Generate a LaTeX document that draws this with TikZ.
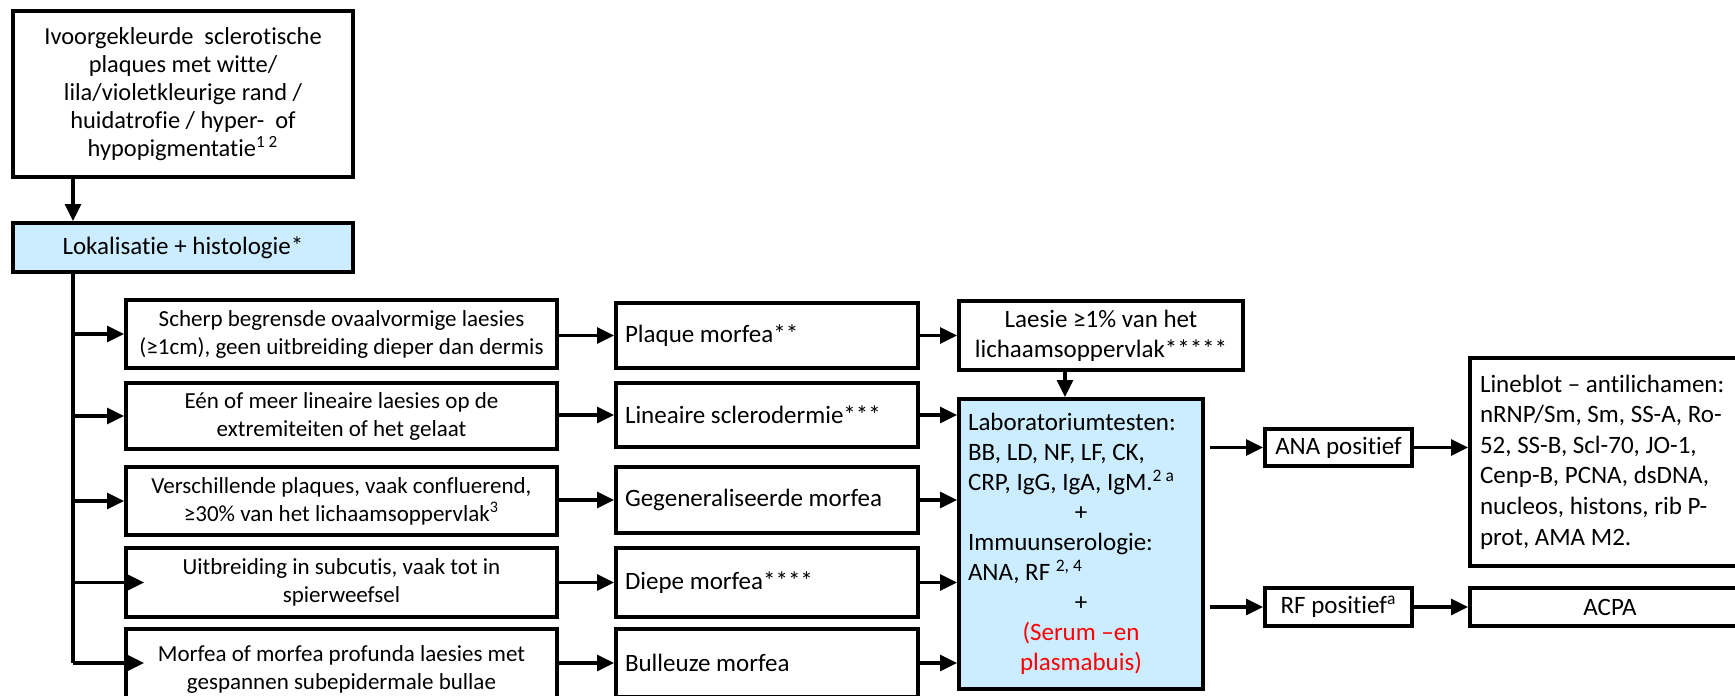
\documentclass[tikz,border=0pt]{standalone}
\usepackage{fontspec}
\setmainfont{Carlito}[Ligatures=NoCommon]
\usepackage{xcolor}
\usetikzlibrary{arrows.meta}
\definecolor{lichtblauw}{RGB}{204,236,255}
\tikzset{
  vak/.style={draw=black, line width=2pt, inner sep=4.5pt, align=center},
  blauwvak/.style={vak, fill=lichtblauw},
  kriterium/.style={vak, minimum width=215.5pt, font=\fontsize{11.5}{14}\selectfont},
  vorm/.style={vak, text width=142pt, align=flush left, font=\fontsize{12.5}{15}\selectfont},
  pijl/.style={line width=1.6pt, -{Triangle[length=8.5pt,width=8pt]}},
  lijn/.style={line width=1.6pt},
}

\begin{document}
\begin{tikzpicture}[x=0.5pt, y=-0.5pt]
  \useasboundingbox (0,0) rectangle (1735,696);
  \clip (0,0) rectangle (1735,696);

  \node[vak, minimum width=170pt, minimum height=83pt, font=\fontsize{12.2}{14}\selectfont] (kenmerk) at (183,94)
    {Ivoorgekleurde\ \ sclerotische\\plaques met witte/\\lila/violetkleurige rand /\\huidatrofie / hyper-\ \ of\\hypopigmentatie\textsuperscript{1 2}};
  \node[blauwvak, minimum width=170pt, minimum height=24.5pt, font=\fontsize{12.5}{15}\selectfont] (lok) at (183,247.5)
    {Lokalisatie + histologie*};
  \coordinate (stam) at (73,663);

  \node[kriterium, minimum height=34pt] (l1) at (341.5,334) {Scherp begrensde ovaalvormige laesies\\(≥1cm), geen uitbreiding dieper dan dermis};
  \node[kriterium, minimum height=33pt] (l2) at (341.5,416) {Eén of meer lineaire laesies op de\\extremiteiten of het gelaat};
  \node[kriterium, minimum height=34pt] (l3) at (341.5,501) {Verschillende plaques, vaak confluerend,\\≥30\% van het lichaamsoppervlak\textsuperscript{3}};
  \node[kriterium, minimum height=34.5pt] (l4) at (341.5,582.5) {Uitbreiding in subcutis, vaak tot in\\spierweefsel};
  \node[kriterium, minimum height=40pt] (l5) at (341.5,669) {Morfea of morfea profunda laesies met\\gespannen subepidermale bullae};

  \node[vorm, minimum height=32.5pt] (m1) at (767,335.5) {Plaque morfea**};
  \node[vorm, minimum height=32pt] (m2) at (767,415) {Lineaire sclerodermie***};
  \node[vorm, minimum height=33pt] (m3) at (767,500) {Gegeneraliseerde morfea};
  \node[vorm, minimum height=34.5pt] (m4) at (767,582.5) {Diepe morfea****};
  \node[vorm, minimum height=34pt] (m5) at (767,663) {Bulleuze morfea};

  \node[vak, minimum width=142pt, minimum height=33.5pt, font=\fontsize{12.5}{15}\selectfont] (laesie) at (1101,335.5)
    {Laesie ≥1\% van het\\lichaamsoppervlak*****};
  \node[blauwvak, text width=113pt, align=flush left, minimum height=145pt, font=\fontsize{12.5}{15}\selectfont] (lab) at (1081,544)
    {Laboratoriumtesten:\\BB, LD, NF, LF, CK,\\CRP, IgG, IgA, IgM.\textsuperscript{2 a}\\\makebox[113pt]{+}\\Immuunserologie:\\ANA, RF \textsuperscript{2, 4}\\\makebox[113pt]{+}\\\makebox[113pt]{\textcolor{red}{(Serum –en}}\\\makebox[113pt]{\textcolor{red}{plasmabuis)}}};

  \node[vak, minimum width=73.5pt, minimum height=18.5pt, inner sep=2pt, font=\fontsize{12.5}{15}\selectfont] (ana) at (1338.5,447.5) {ANA positief};
  \node[vak, minimum width=73.5pt, minimum height=19pt, inner sep=2pt, font=\fontsize{12.5}{15}\selectfont] (rf) at (1338.5,607) {RF positief\textsuperscript{a}};
  \node[vak, text width=130pt, align=flush left, minimum height=104pt, inner sep=5pt, font=\fontsize{12.5}{15.3}\selectfont] (lineblot) at (1610,462)
    {Lineblot – antilichamen:\\nRNP/Sm, Sm, SS-A, Ro-\\52, SS-B, Scl-70, JO-1,\\Cenp-B, PCNA, dsDNA,\\nucleos, histons, rib P-\\prot, AMA M2.};
  \node[vak, minimum width=140pt, minimum height=19pt, inner sep=2pt, font=\fontsize{12.5}{15}\selectfont] (acpa) at (1610,607) {ACPA};

  \draw[pijl] (kenmerk.south -| stam) -- (lok.north -| stam);
  \draw[lijn] (lok.south -| stam) -- (stam);
  \foreach \i in {1,...,3} {
    \draw[pijl] (stam |- l\i) -- (l\i.west);
  }
  \draw[pijl, shorten >=-10pt] (stam |- l4) -- (l4.west);
  \draw[pijl, shorten >=-10pt] (stam |- m5) -- (l5.west |- m5);
  \foreach \i in {1,...,5} {
    \draw[pijl] (m\i.west -| l\i.east) -- (m\i.west);
  }
  \draw[pijl] (m1.east) -- (laesie.west |- m1);
  \foreach \i in {2,...,5} {
    \draw[pijl] (m\i.east) -- (lab.west |- m\i);
  }
  \draw[pijl] ([xshift=-18pt]laesie.south) -- ([xshift=-18pt]laesie.south |- lab.north);
  \draw[pijl] ([xshift=2.5pt]lab.east |- ana) -- (ana.west);
  \draw[pijl] ([xshift=2.5pt]lab.east |- rf) -- (rf.west);
  \draw[pijl] (ana.east) -- (lineblot.west |- ana);
  \draw[pijl] (rf.east) -- (acpa.west);
\end{tikzpicture}
\end{document}
